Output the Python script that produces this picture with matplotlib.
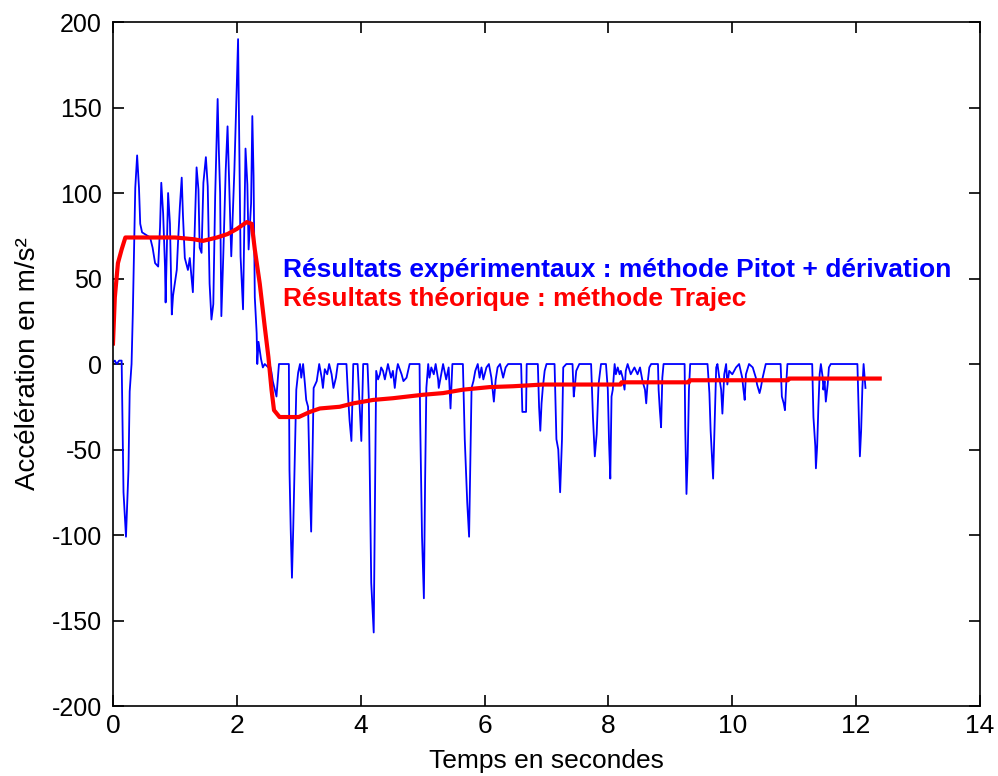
import numpy as np
import matplotlib
matplotlib.use("Agg")
import matplotlib.pyplot as plt

plt.rcParams["axes.unicode_minus"] = False
plt.rcParams["font.family"] = ["Liberation Sans", "DejaVu Sans"]

blue_t = [0.00, 0.03, 0.06, 0.10, 0.14, 0.15, 0.17, 0.21, 0.25, 0.27, 0.30, 0.32, 0.36, 0.39, 0.42, 0.44,
          0.47, 0.60, 0.64, 0.68, 0.73, 0.76, 0.78, 0.81, 0.84, 0.85, 0.89, 0.92, 0.95, 0.97, 1.03, 1.05,
          1.08, 1.11, 1.13, 1.16, 1.21, 1.24, 1.29, 1.32, 1.35, 1.38, 1.40, 1.43, 1.46, 1.50, 1.53, 1.56,
          1.59, 1.62, 1.65, 1.69, 1.71, 1.73, 1.75, 1.78, 1.82, 1.85, 1.89, 1.91, 1.96, 2.00, 2.02, 2.04,
          2.06, 2.10, 2.14, 2.17, 2.19, 2.23, 2.25, 2.27, 2.29, 2.32, 2.33, 2.35, 2.39, 2.42, 2.45, 2.51,
          2.53, 2.56, 2.58, 2.64, 2.68, 2.84, 2.85, 2.87, 2.89, 2.91, 2.94, 2.96, 2.99, 3.02, 3.04, 3.07,
          3.10, 3.12, 3.15, 3.18, 3.20, 3.22, 3.24, 3.29, 3.33, 3.37, 3.39, 3.42, 3.46, 3.49, 3.53, 3.56,
          3.60, 3.63, 3.77, 3.79, 3.82, 3.85, 3.88, 3.95, 3.98, 4.01, 4.04, 4.11, 4.13, 4.15, 4.17, 4.21,
          4.23, 4.25, 4.28, 4.31, 4.33, 4.36, 4.39, 4.44, 4.49, 4.52, 4.55, 4.58, 4.60, 4.66, 4.69, 4.74,
          4.79, 4.95, 4.96, 4.99, 5.02, 5.04, 5.06, 5.09, 5.11, 5.14, 5.18, 5.21, 5.25, 5.26, 5.29, 5.33,
          5.38, 5.42, 5.45, 5.48, 5.65, 5.68, 5.72, 5.75, 5.77, 5.79, 5.82, 5.85, 5.89, 5.92, 5.95, 5.98,
          6.03, 6.07, 6.11, 6.15, 6.18, 6.21, 6.25, 6.30, 6.34, 6.38, 6.59, 6.61, 6.67, 6.68, 6.86, 6.88,
          6.90, 6.92, 6.94, 6.97, 7.00, 7.13, 7.16, 7.19, 7.22, 7.25, 7.27, 7.32, 7.42, 7.44, 7.46, 7.48,
          7.53, 7.72, 7.75, 7.78, 7.81, 7.84, 7.88, 7.96, 7.99, 8.01, 8.03, 8.05, 8.07, 8.10, 8.12, 8.15,
          8.18, 8.20, 8.23, 8.26, 8.28, 8.31, 8.36, 8.42, 8.47, 8.51, 8.55, 8.59, 8.61, 8.63, 8.66, 8.69,
          8.80, 8.81, 8.83, 8.85, 8.87, 8.89, 9.23, 9.24, 9.26, 9.28, 9.30, 9.32, 9.60, 9.63, 9.65, 9.69,
          9.71, 9.74, 9.76, 9.79, 9.82, 9.84, 9.87, 9.90, 9.92, 9.95, 10.00, 10.06, 10.11, 10.16, 10.18, 10.20,
          10.22, 10.27, 10.33, 10.38, 10.40, 10.44, 10.46, 10.49, 10.54, 10.78, 10.80, 10.83, 10.85, 10.87, 10.89, 11.29,
          11.31, 11.34, 11.35, 11.37, 11.39, 11.41, 11.43, 11.46, 11.47, 11.49, 11.51, 11.54, 11.56, 11.59, 12.02, 12.04,
          12.06, 12.08, 12.10, 12.12, 12.15]
blue_v = [1, 2, 0, 2, 2, -24, -75, -101, -62, -16, 0, 29, 103, 122, 103, 82,
          77, 74, 68, 59, 57, 80, 106, 88, 57, 36, 100, 82, 29, 40, 55, 71,
          92, 109, 87, 62, 55, 62, 42, 78, 115, 102, 68, 65, 106, 121, 104, 47,
          26, 35, 98, 155, 124, 100, 28, 62, 113, 139, 89, 63, 113, 165, 190, 124,
          63, 32, 126, 105, 67, 94, 145, 110, 39, 18, 0, 13, 3, -2, 0, -2,
          0, -5, -10, -19, 0, 0, -62, -97, -125, -97, -46, -15, -5, 0, -8, 0,
          -12, -21, -25, -74, -98, -58, -14, -10, 0, -8, -14, -3, -6, 0, -6, -14,
          -8, 0, 0, -15, -33, -45, 0, 0, -23, -45, 0, 0, -19, -74, -128, -157,
          -80, -4, -9, -6, -2, -4, -9, 0, -8, -4, -14, -4, 0, -6, -10, -8,
          0, 0, -33, -101, -137, -68, -14, 0, -8, -2, -6, 0, -9, -14, -8, 0,
          -9, -2, -26, 0, 0, -44, -81, -101, -56, -14, -10, -4, 0, -8, -2, -9,
          -2, 0, -8, -22, -9, -2, 0, -8, -2, 0, 0, -28, -28, 0, 0, -25,
          -39, -23, -14, -4, 0, 0, -44, -50, -75, -44, -2, 0, 0, -19, -12, -4,
          0, 0, -31, -54, -41, -12, 0, 0, -15, -46, -67, -19, -15, 0, -6, -2,
          -6, -4, -8, -15, -4, 0, -6, -2, -6, -2, -10, -15, -23, -12, -2, 0,
          0, -15, -27, -37, -8, 0, 0, -37, -76, -54, -15, 0, 0, -17, -39, -67,
          -41, -2, 0, -8, -15, -29, -6, 0, -12, -4, -6, -2, 0, -8, -15, -21,
          -6, 0, -2, -8, -12, -17, -14, -8, 0, 0, -19, -23, -27, -12, 0, 0,
          -31, -48, -61, -48, -25, -6, 0, -8, -15, -10, -22, -12, -2, 0, 0, -27,
          -54, -39, -14, 0, -14]

# Red: theoretical acceleration (Trajec)
red_t = [0.00, 0.03, 0.08, 0.14, 0.20, 0.27, 0.60, 1.00, 1.30, 1.45, 1.68, 1.85, 2.00, 2.16,
         2.24, 2.29, 2.37, 2.45, 2.51, 2.56, 2.60, 2.69, 3.00, 3.18, 3.34, 3.66, 3.88, 4.20,
         4.52, 5.00, 5.33, 5.65, 6.08, 6.46, 6.94, 8.20, 8.21, 9.30, 9.31, 10.90, 10.91, 12.38]
red_v = [12, 39, 59, 67, 74, 74, 74, 74, 73, 72, 74, 76, 79, 83,
         82, 67, 47, 22, 4, -15, -27, -31, -31, -28, -26, -25, -23, -21,
         -20, -18, -17, -15, -13.5, -13, -12, -12, -10.7, -10.7, -9.5, -9.5, -8.5, -8.5]

xticks = [0, 2, 4, 6, 8, 10, 12, 14]
yticks = [-200, -150, -100, -50, 0, 50, 100, 150, 200]

fig = plt.figure(figsize=(9.98, 7.76), dpi=100)
ax = fig.add_axes([0.1132, 0.0902, 0.8688, 0.8814])

ax.plot(blue_t, blue_v, color="#0000ff", lw=1.3)
ax.plot(red_t, red_v, color="#ff0000", lw=3)

ax.set_xlim(0, 14)
ax.set_ylim(-200, 200)
ax.set_xticks(xticks)
ax.set_yticks(yticks)
ax.tick_params(direction="in", length=8, width=1.2, top=True, right=True, pad=6)
ax.tick_params(axis="x", labelsize=19)
ax.tick_params(axis="y", labelsize=18, pad=8)
for s in ax.spines.values():
    s.set_linewidth(1.2)

ax.set_xlabel("Temps en secondes", fontsize=19, labelpad=8)
ax.set_ylabel("Accélération en m/s²", fontsize=20, labelpad=8)

ax.text(2.74, 55, "Résultats expérimentaux : méthode Pitot + dérivation", color="#0000ff",
        fontsize=19, fontweight="bold", va="center")
ax.text(2.74, 38, "Résultats théorique : méthode Trajec", color="#ff0000",
        fontsize=19, fontweight="bold", va="center")

fig.savefig("out.png", dpi=100)
